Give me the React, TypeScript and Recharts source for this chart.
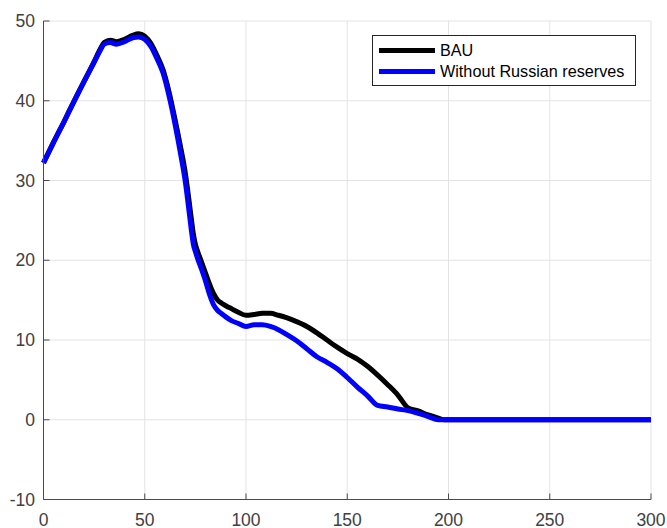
import React from "react";
import { LineChart, Line, XAxis, YAxis, CartesianGrid, Legend } from "recharts";

const xs = [0,5,10,15,20,25,28,30,33,36,40,44,47,50,53,56,59,62,65,68,70,72,73,74,75,76,78,80,82,84,86,88,90,93,96,100,104,108,112,116,120,125,130,135,140,145,150,155,160,165,170,175,180,185,190,195,198,200,250,300];

const bau = [32.2,34.8,37.3,39.9,42.4,44.9,46.5,47.3,47.6,47.4,47.7,48.2,48.4,48.1,47.2,45.7,43.9,41.1,37.6,33.8,31.0,27.2,25.2,23.3,22.0,21.2,19.8,18.4,17.0,15.8,15.0,14.6,14.3,13.9,13.5,13.1,13.2,13.35,13.35,13.1,12.8,12.3,11.7,10.9,10.0,9.1,8.3,7.6,6.7,5.6,4.4,3.1,1.5,1.1,0.6,0.2,0,0,0,0];

const withoutRussia = [32.2,34.8,37.3,39.9,42.4,44.8,46.3,47.1,47.3,47.1,47.4,47.9,48.0,47.7,46.8,45.3,43.5,40.6,37.0,32.9,29.9,25.9,23.8,22.0,21.1,20.3,18.9,17.4,15.7,14.4,13.7,13.3,12.9,12.4,12.1,11.7,11.9,11.9,11.7,11.3,10.7,9.9,8.9,7.9,7.2,6.4,5.3,4.1,3.0,1.8,1.6,1.35,1.15,0.8,0.4,0,0,0,0,0];

const xTicks = [0,50,100,150,200,250,300];
const yTicks = [-10,0,10,20,30,40,50];

const seriesNames = ["BAU", "Without Russian reserves"];
const seriesColors = ["#000000", "#0000ff"];

const data = xs.map((x, i) => ({ x, bau: bau[i], wr: withoutRussia[i] }));

const AXIS = "#4a4a4a";
const TXT = "#404040";
const FONT = "'Liberation Sans', Arial, Helvetica, sans-serif";
const TL = 6;

const BottomTick = (p: any) => (
  <g>
    <line x1={p.x} x2={p.x} y1={p.y} y2={p.y - TL} stroke={AXIS} strokeWidth={1} />
    <text x={p.x} y={p.y + 26} textAnchor="middle" fill={TXT} fontSize={17.5} fontFamily={FONT}>
      {p.payload.value}
    </text>
  </g>
);
const TopTick = (p: any) => (
  <line x1={p.x} x2={p.x} y1={p.y} y2={p.y + TL} stroke={AXIS} strokeWidth={1} />
);
const LeftTick = (p: any) => (
  <g>
    <line x1={p.x} x2={p.x + TL} y1={p.y} y2={p.y} stroke={AXIS} strokeWidth={1} />
    <text x={p.x - 8.5} y={p.y + 6.2} textAnchor="end" fill={TXT} fontSize={17.5} fontFamily={FONT}>
      {p.payload.value}
    </text>
  </g>
);
const RightTick = (p: any) => (
  <line x1={p.x} x2={p.x - TL} y1={p.y} y2={p.y} stroke={AXIS} strokeWidth={1} />
);

const LegendBox = (props: any) => {
  const payload = props.payload || [];
  return (
    <div
      style={{
        width: 262,
        height: 45,
        border: "1px solid #262626",
        background: "#fff",
        boxSizing: "content-box",
        paddingTop: 4,
        fontFamily: FONT,
        fontSize: 16.2,
        color: "#000",
      }}
    >
      {payload.map((e: any, i: number) => (
        <div key={i} style={{ display: "flex", alignItems: "center", height: 20.7 }}>
          <div style={{ marginLeft: 6, width: 56, height: 5, background: e.color }} />
          <span style={{ marginLeft: 5, lineHeight: "20px" }}>{e.value}</span>
        </div>
      ))}
    </div>
  );
};

export default function App() {
  return (
    <div style={{ position: "absolute", left: 0, top: 0, width: 667, height: 528, background: "#fff" }}>
      <LineChart
        width={667}
        height={528}
        data={data}
        margin={{ top: 21, right: 16, bottom: 0, left: 0 }}
      >
        <CartesianGrid xAxisId="b" yAxisId="l" stroke="#e3e3e3" strokeWidth={1} />
        <XAxis
          xAxisId="b"
          dataKey="x"
          type="number"
          domain={[0, 300]}
          ticks={xTicks}
          height={28.5}
          tickSize={0}
          tickMargin={0}
          tickLine={false}
          axisLine={{ stroke: AXIS, strokeWidth: 1 }}
          tick={<BottomTick />}
          interval={0}
        />
        <XAxis
          xAxisId="t"
          orientation="top"
          dataKey="x"
          type="number"
          domain={[0, 300]}
          ticks={xTicks}
          height={0}
          tickSize={0}
          tickMargin={0}
          tickLine={false}
          axisLine={{ stroke: AXIS, strokeWidth: 1 }}
          tick={<TopTick />}
          interval={0}
        />
        <YAxis
          yAxisId="l"
          type="number"
          domain={[-10, 50]}
          ticks={yTicks}
          width={43.5}
          tickSize={0}
          tickMargin={0}
          tickLine={false}
          axisLine={{ stroke: AXIS, strokeWidth: 1 }}
          tick={<LeftTick />}
          interval={0}
        />
        <YAxis
          yAxisId="r"
          orientation="right"
          type="number"
          domain={[-10, 50]}
          ticks={yTicks}
          width={0}
          tickSize={0}
          tickMargin={0}
          tickLine={false}
          axisLine={{ stroke: AXIS, strokeWidth: 1 }}
          tick={<RightTick />}
          interval={0}
        />
        <Legend
          layout="horizontal"
          verticalAlign="middle"
          align="center"
          content={<LegendBox />}
          wrapperStyle={{ position: "absolute", left: 372, top: 35, width: 264, height: 50 }}
        />
        <Line
          xAxisId="b"
          yAxisId="l"
          dataKey="bau"
          name={seriesNames[0]}
          stroke={seriesColors[0]}
          strokeWidth={5}
          dot={false}
          type="monotone"
          isAnimationActive={false}
        />
        <Line
          xAxisId="b"
          yAxisId="l"
          dataKey="wr"
          name={seriesNames[1]}
          stroke={seriesColors[1]}
          strokeWidth={5}
          dot={false}
          type="monotone"
          isAnimationActive={false}
        />
      </LineChart>
    </div>
  );
}
